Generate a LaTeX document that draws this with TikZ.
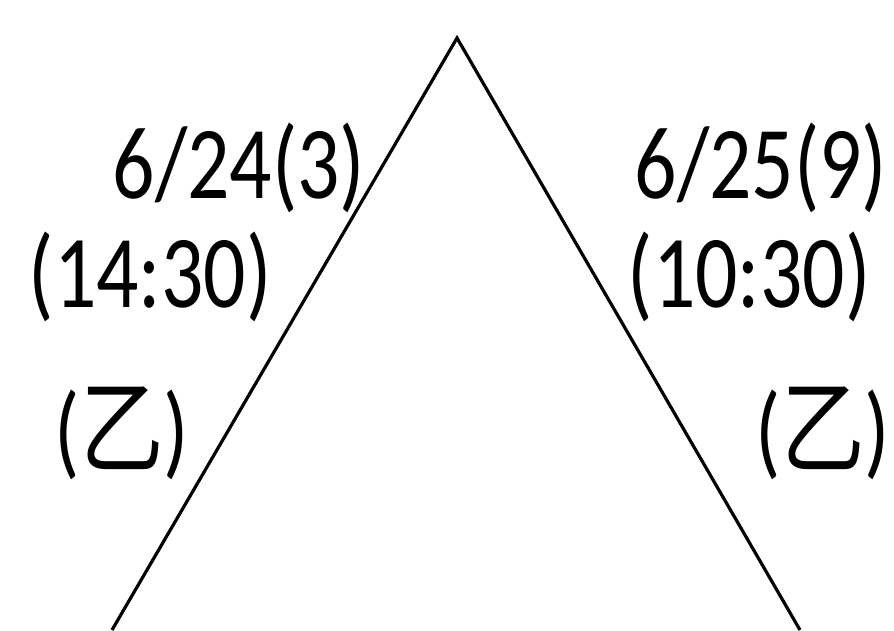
\documentclass[tikz,border=0pt]{standalone}
\usepackage{fontspec}
\setmainfont{Carlito}
\newfontfamily\cjk{Noto Sans CJK SC}
\usepackage{tikz}

\newcommand{\tall}[1]{\scalebox{1.02}[1.26]{#1}}

\begin{document}
\begin{tikzpicture}[x=1pt,y=1pt,
  lbl/.style={anchor=base,inner sep=0pt,font=\fontsize{82}{98}\selectfont}]
\useasboundingbox (0,0) rectangle (894,-630);
% the two sides:
\coordinate (apex) at (457,-38);
\coordinate (leftfoot) at (112,-630);
\coordinate (rightfoot) at (800,-630);
\path[draw=black,line width=3.2pt,line join=miter] (leftfoot) -- (apex) -- (rightfoot);
% left labels:
\node[lbl] (dayleft) at (239,-198) {\tall{6/24(3)}};
\node[lbl] (timeleft) at (150,-307) {\tall{(14:30)}};
\node[lbl] (yileft) at (122,-465) {\tall{({\cjk 乙})}};
% right labels:
\node[lbl] (dayright) at (761,-198) {\tall{6/25(9)}};
\node[lbl] (timeright) at (749,-307) {\tall{(10:30)}};
\node[lbl] (yiright) at (823,-465) {\tall{({\cjk 乙})}};
\end{tikzpicture}
\end{document}
